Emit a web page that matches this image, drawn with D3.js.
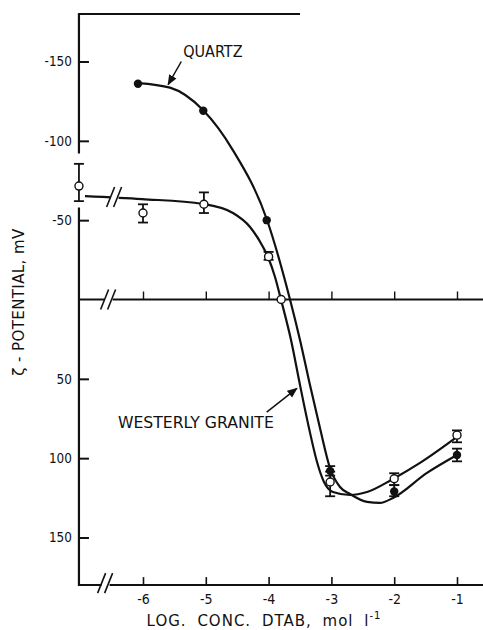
<!DOCTYPE html>
<html><head><meta charset="utf-8">
<script src="https://cdn.jsdelivr.net/npm/d3@7"></script>
<style>
html,body{margin:0;padding:0;background:#fff;}
svg{display:block;font-family:"DejaVu Sans","Liberation Sans",sans-serif;}
</style></head>
<body><svg id="c" width="483" height="630"></svg>
<script>
// ---- data (log concentration of DTAB, zeta potential mV; positive = downward) ----
const xTicks = [-6, -5, -4, -3, -2, -1];
const yTicks = [-150, -100, -50, 50, 100, 150];

// Quartz (filled circles)
const quartzConc = [-6.08, -5.04, -4.03, -3.02, -2.0, -1.0];
const quartzZeta = [-136, -119, -50, 108, 121, 98];
const quartzLo   = [null, null, null, 105, 117, 94];
const quartzHi   = [null, null, null, 111, 124, 102];

// Westerly granite (open circles)
const graniteConc = [-6.0, -5.03, -4.0, -3.8, -3.02, -2.0, -1.0];
const graniteZeta = [-54.5, -60, -27, 0, 115, 113, 85.5];
const graniteLo   = [-60, -67.5, -30, null, 108.5, 109.5, 82.5];
const graniteHi   = [-48.5, -54.5, -25, null, 124, 117, 90];

// Granite in water (no DTAB), plotted on the broken axis
const waterZeta = -71.5, waterLo = -85.5, waterHi = -62;

// Hand-drawn fitted curves
const quartzCurveX = [-6.08, -5.57, -5.045, -4.567, -4.025, -3.659, -3.5, -3.341, -3.182, -3.022, -2.863, -2.704, -2.433, -2.226, -2.019, -1.478, -1.0];
const quartzCurveY = [-136.4, -133.5, -119.4, -94, -50.1, 0, 25.5, 53.9, 81, 106.2, 118.2, 122.6, 127.6, 128.2, 125.1, 109.3, 98];
const graniteCurveX = [-6.924, -6.016, -5.045, -4.567, -4.296, -4.089, -4.01, -3.898, -3.803, -3.643, -3.5, -3.357, -3.229, -3.118, -2.975, -2.704, -2.433, -2.019, -1.589, -1.0];
const graniteCurveY = [-65.2, -63.3, -60.2, -54.5, -45.7, -33.1, -26.8, -14.2, 0, 25.5, 53.9, 81, 102.4, 115, 121.3, 123.2, 121.3, 113.1, 103, 86.6];

// ---- scales ----
const x = d3.scaleLinear().domain([-6, -1]).range([143, 457]);
const y = d3.scaleLinear().domain([-150, 150]).range([61.5, 537.5]);
const xLeft = -7.02, xRight = -0.56, yTop = -180, yBottom = 180;
const topLineEnd = -3.5;
const axisGap = [-92, -58];   // break in the y axis around the water point
const breakX = -6.5;

const svg = d3.select("#c");
const ink = "#111";
const g = svg.append("g");

// horizontally condense a text element around its anchor
function condense(sel, f) {
  sel.each(function () {
    const t = d3.select(this);
    const L = this.getComputedTextLength();
    t.attr("textLength", L * f).attr("lengthAdjust", "spacingAndGlyphs");
  });
}

function line(x1, y1, x2, y2, w) {
  g.append("line").attr("x1", x1).attr("y1", y1).attr("x2", x2).attr("y2", y2)
    .attr("stroke", ink).attr("stroke-width", w || 2).attr("stroke-linecap", "butt");
}

// frame lines
const X0 = x(xLeft);
line(X0, y(yTop), X0, y(axisGap[0]), 2.2);
line(X0, y(axisGap[1]), X0, y(yBottom) + 1, 2.2);
line(X0 - 1, y(yTop), x(topLineEnd), y(yTop), 2);
line(X0, y(yBottom), x(xRight), y(yBottom), 2);
line(X0, y(0), x(xRight), y(0), 2);

// y axis ticks + labels
const yAx = d3.axisLeft(y).tickValues(yTicks).tickFormat(d => String(d))
  .tickSizeInner(-10).tickSizeOuter(0).tickPadding(7);
const ya = svg.append("g").attr("transform", `translate(${X0},0)`).call(yAx)
  .attr("font-family", null).attr("font-size", null);
ya.select(".domain").remove();
ya.selectAll(".tick line").attr("stroke", ink).attr("stroke-width", 2);
ya.selectAll(".tick text").attr("fill", ink).style("font-size", "14px");
condense(ya.selectAll(".tick text"), 0.86);

// x axis ticks + labels
const xAx = d3.axisBottom(x).tickValues(xTicks).tickFormat(d => String(d))
  .tickSizeInner(-8).tickSizeOuter(0).tickPadding(9);
const xa = svg.append("g").attr("transform", `translate(0,${y(yBottom)})`).call(xAx)
  .attr("font-family", null).attr("font-size", null);
xa.select(".domain").remove();
xa.selectAll(".tick line").attr("stroke", ink).attr("stroke-width", 1.6);
xa.selectAll(".tick text").attr("fill", ink).style("font-size", "14px");
condense(xa.selectAll(".tick text"), 0.9);

// ticks on zero line
const za = d3.axisBottom(x).tickValues(xTicks).tickFormat("").tickSizeInner(-8).tickSizeOuter(0);
const zg = svg.append("g").attr("transform", `translate(0,${y(0)})`).call(za);
zg.select(".domain").remove();
zg.selectAll(".tick line").attr("stroke", ink).attr("stroke-width", 1.4);

// curves
const lineGen = d3.line().x(d => x(d[0])).y(d => y(d[1])).curve(d3.curveMonotoneX);
svg.append("path").datum(quartzCurveX.map((v, i) => [v, quartzCurveY[i]]))
  .attr("d", lineGen).attr("fill", "none").attr("stroke", ink).attr("stroke-width", 2.2);
svg.append("path").datum(graniteCurveX.map((v, i) => [v, graniteCurveY[i]]))
  .attr("d", lineGen).attr("fill", "none").attr("stroke", ink).attr("stroke-width", 2.2);

// break marks
function breakMark(cx, cy) {
  const b = svg.append("g");
  b.append("rect").attr("x", cx - 5).attr("y", cy - 3).attr("width", 8).attr("height", 6).attr("fill", "#fff");
  [-5, 2].forEach(o => {
    b.append("line").attr("x1", cx + o - 4).attr("y1", cy + 10).attr("x2", cx + o + 4).attr("y2", cy - 10)
      .attr("stroke", ink).attr("stroke-width", 1.6);
  });
}
breakMark(x(breakX) + 4, y(graniteCurveY[0]) + 1);
breakMark(x(breakX) - 2, y(0));
breakMark(x(breakX) - 5, y(yBottom) - 2);

// error bars
function errBar(cx, lo, hi) {
  if (lo == null) return;
  const b = svg.append("g").attr("stroke", ink).attr("stroke-width", 1.8);
  b.append("line").attr("x1", cx).attr("x2", cx).attr("y1", y(lo)).attr("y2", y(hi));
  b.append("line").attr("x1", cx - 5).attr("x2", cx + 5).attr("y1", y(lo)).attr("y2", y(lo));
  b.append("line").attr("x1", cx - 5).attr("x2", cx + 5).attr("y1", y(hi)).attr("y2", y(hi));
}
graniteConc.forEach((c, i) => errBar(x(c), graniteLo[i], graniteHi[i]));
quartzConc.forEach((c, i) => errBar(x(c), quartzLo[i], quartzHi[i]));
errBar(X0, waterLo, waterHi);

// points
svg.selectAll(".q").data(quartzConc).enter().append("circle")
  .attr("cx", d => x(d)).attr("cy", (d, i) => y(quartzZeta[i])).attr("r", 4.2).attr("fill", ink);
svg.selectAll(".gr").data(graniteConc).enter().append("circle")
  .attr("cx", d => x(d)).attr("cy", (d, i) => y(graniteZeta[i])).attr("r", 4)
  .attr("fill", "#fff").attr("stroke", ink).attr("stroke-width", 1.4);
svg.append("circle").attr("cx", X0).attr("cy", y(waterZeta)).attr("r", 4)
  .attr("fill", "#fff").attr("stroke", ink).attr("stroke-width", 1.4);

// annotations
svg.append("defs").append("marker").attr("id", "ah").attr("viewBox", "0 0 10 10")
  .attr("refX", 9).attr("refY", 5).attr("markerWidth", 7).attr("markerHeight", 7)
  .attr("orient", "auto").append("path").attr("d", "M0,1 L10,5 L0,9 Z").attr("fill", ink);

const q = svg.append("text").attr("x", x(-5.36)).attr("y", y(-152.8)).text("QUARTZ")
  .attr("fill", ink).style("font-size", "16px");
condense(q, 0.9);
svg.append("line").attr("x1", x(-5.39)).attr("y1", y(-150)).attr("x2", x(-5.6)).attr("y2", y(-135.5))
  .attr("stroke", ink).attr("stroke-width", 1.5).attr("marker-end", "url(#ah)");

const wg = svg.append("text").attr("x", x(-6.4)).attr("y", y(81)).text("WESTERLY GRANITE")
  .attr("fill", ink).style("font-size", "16px");
condense(wg, 0.98);
svg.append("line").attr("x1", x(-4.03)).attr("y1", y(71)).attr("x2", x(-3.55)).attr("y2", y(56))
  .attr("stroke", ink).attr("stroke-width", 1.5).attr("marker-end", "url(#ah)");

// axis titles
const xt = svg.append("text").attr("x", 264).attr("y", 626).attr("text-anchor", "middle")
  .attr("fill", ink).style("font-size", "15px").style("letter-spacing", "1px").style("word-spacing", "5px");
xt.append("tspan").text("LOG. CONC. DTAB, mol l");
xt.append("tspan").attr("dy", -7).style("font-size", "10px").text("-1");

svg.append("text").attr("transform", "translate(24,302) rotate(-90)").attr("text-anchor", "middle")
  .attr("fill", ink).style("font-size", "15px").style("letter-spacing", "0.4px")
  .text("ζ - POTENTIAL, mV");
</script></body></html>
